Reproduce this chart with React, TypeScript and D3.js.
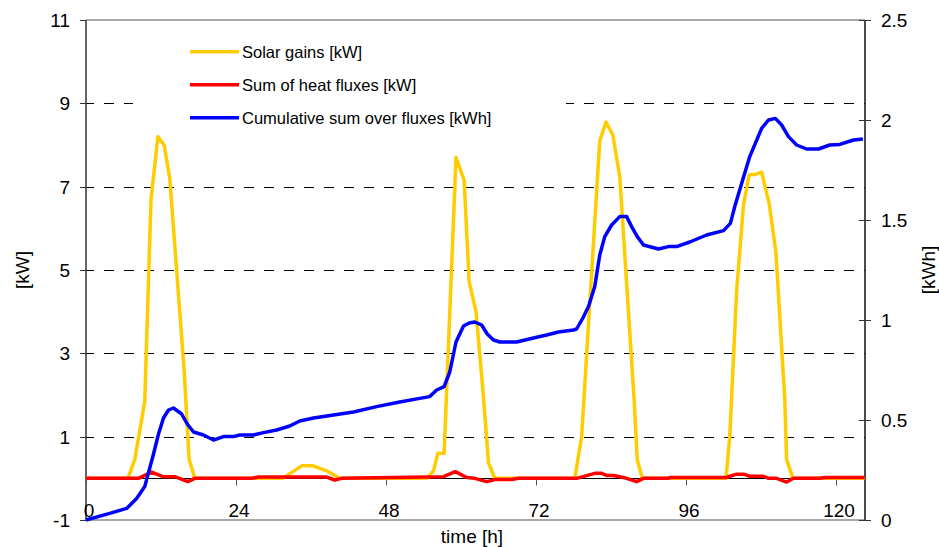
import React from "react";
import * as d3 from "d3";

const solarT = [0, 6.7, 7.8, 9.4, 10.4, 11.5, 12.5, 13.4, 15.7, 16.5, 17.4, 31.5, 33.0, 34.5, 36.3, 38.5, 40.6, 54.6, 55.6, 56.3, 57.3, 59.2, 60.5, 61.3, 62.4, 63.5, 64.4, 65.4, 78.2, 79.3, 82.2, 83.2, 84.3, 85.4, 87.7, 88.2, 89.0, 102.4, 103.0, 104.1, 105.2, 106.1, 107.2, 108.1, 109.3, 110.4, 111.8, 112.1, 113.1, 124.6];
const solarKW = [0, 0, 0.45, 1.84, 6.68, 8.2, 8.0, 7.2, 2.6, 0.45, 0, 0, 0.15, 0.3, 0.3, 0.18, 0, 0, 0.18, 0.6, 0.6, 7.7, 7.16, 4.72, 4.0, 2.12, 0.37, 0, 0, 1.0, 8.1, 8.55, 8.24, 7.24, 1.88, 0.45, 0, 0, 1.0, 4.5, 6.56, 7.28, 7.3, 7.35, 6.6, 5.4, 1.9, 0.45, 0, 0];

const heatT = [0, 8.4, 10.5, 12.3, 14.2, 16.3, 17.4, 26.5, 27.6, 38.5, 39.8, 40.9, 57.2, 59.1, 60.9, 62.2, 64.1, 65.4, 68.1, 69.2, 78.5, 81.4, 82.5, 83.3, 84.4, 86.5, 88.1, 89.2, 93.1, 93.5, 102.4, 104.1, 105.2, 106.2, 108.4, 109.2, 110.5, 112.1, 113.2, 117.4, 118.2, 124.6];
const heatKW = [0, 0, 0.15, 0.04, 0.04, -0.08, 0, 0, 0.03, 0.03, -0.04, 0, 0.04, 0.16, 0.02, 0, -0.08, -0.03, -0.03, 0, 0, 0.12, 0.12, 0.07, 0.07, 0, -0.08, 0, 0, 0.02, 0.02, 0.1, 0.1, 0.05, 0.05, 0, 0, -0.09, 0, 0, 0.02, 0.02];

const cumT = [0, 3.8, 6.5, 8.1, 9.4, 10.8, 11.6, 12.4, 13.2, 14.0, 15.3, 16.2, 17.2, 18.8, 20.4, 22.0, 23.6, 24.6, 26.8, 28.4, 30.5, 32.6, 34.2, 36.4, 39.6, 42.8, 46.5, 50.2, 53.4, 55.0, 56.1, 57.3, 58.2, 59.2, 60.4, 61.3, 62.2, 63.3, 64.2, 65.2, 66.2, 68.9, 71.6, 73.7, 75.6, 78.0, 78.5, 79.5, 80.4, 81.4, 82.2, 83.0, 84.1, 85.4, 86.5, 87.3, 88.2, 89.2, 91.6, 93.2, 94.5, 96.6, 99.3, 102.0, 103.1, 103.8, 104.9, 106.2, 108.1, 109.2, 110.3, 111.3, 112.4, 113.7, 115.3, 117.2, 119.0, 120.6, 122.8, 124.3];
const cumKWh = [0, 0.033, 0.058, 0.108, 0.167, 0.33, 0.43, 0.51, 0.55, 0.56, 0.53, 0.48, 0.44, 0.425, 0.40, 0.417, 0.417, 0.425, 0.425, 0.437, 0.45, 0.47, 0.495, 0.51, 0.525, 0.54, 0.567, 0.59, 0.608, 0.617, 0.65, 0.667, 0.74, 0.89, 0.97, 0.985, 0.99, 0.975, 0.93, 0.9, 0.89, 0.89, 0.91, 0.925, 0.94, 0.95, 0.955, 1.01, 1.067, 1.167, 1.325, 1.417, 1.475, 1.517, 1.517, 1.467, 1.417, 1.375, 1.355, 1.367, 1.367, 1.39, 1.425, 1.447, 1.483, 1.567, 1.683, 1.817, 1.958, 2.0, 2.008, 1.975, 1.917, 1.875, 1.855, 1.855, 1.875, 1.878, 1.9, 1.905];

const xTicks = [0, 24, 48, 72, 96, 120];
const leftTicks = [-1, 1, 3, 5, 7, 9, 11];
const gridValues = [1, 3, 5, 7, 9];
const rightTicks = [0, 0.5, 1, 1.5, 2, 2.5];
const rightTickLabels = ["0", "0.5", "1", "1.5", "2", "2.5"];

const seriesNames = ["Solar gains [kW]", "Sum of heat fluxes [kW]", "Cumulative sum over fluxes [kWh]"];
const seriesColors = ["#FFCC00", "#FF0000", "#0000FF"];

const W = 939, H = 547;
const L = 86, R = 865, T = 20, B = 520;
const FONT = "Arial, 'Liberation Sans', sans-serif";

export default function App() {
  const x = d3.scaleLinear().domain([0, 124.64]).range([L, R]);
  const yL = d3.scaleLinear().domain([-1, 11]).range([B, T]);
  const yR = d3.scaleLinear().domain([0, 2.5]).range([B, T]);

  const lineL = d3.line<[number, number]>().x(d => x(d[0])).y(d => yL(d[1]));
  const lineR = d3.line<[number, number]>().x(d => x(d[0])).y(d => yR(d[1]));

  const solar = solarT.map((t, i) => [t, solarKW[i]] as [number, number]);
  const heat = heatT.map((t, i) => [t, heatKW[i]] as [number, number]);
  const cum = cumT.map((t, i) => [t, cumKWh[i]] as [number, number]);

  const y0 = Math.round(yL(0)) + 0.5;
  const crisp = (v: number) => Math.round(v) + 0.5;

  return (
    <svg width={W} height={H} style={{ position: "absolute", left: 0, top: 0, display: "block", background: "#fff" }} fontFamily={FONT}>
      <rect x={0} y={0} width={W} height={H} fill="#fff" />
      {/* gridlines */}
      {gridValues.map(v => (
        <line key={v} x1={L} x2={R} y1={crisp(yL(v))} y2={crisp(yL(v))} stroke="#000" strokeWidth={1} strokeDasharray="10,10" strokeDashoffset={2} />
      ))}
      {/* frame */}
      <line x1={L} x2={R} y1={T} y2={T} stroke="#8c8c8c" strokeWidth={1.5} />
      <line x1={L} x2={R} y1={B} y2={B} stroke="#8c8c8c" strokeWidth={1.5} />
      <line x1={L} x2={L} y1={T} y2={B} stroke="#333" strokeWidth={1.5} />
      <line x1={R} x2={R} y1={T} y2={B} stroke="#111" strokeWidth={1.5} />
      {/* zero line */}
      <line x1={L} x2={R} y1={y0} y2={y0} stroke="#000" strokeWidth={1} />
      {/* legend box */}
      <rect x={133} y={32} width={433} height={98} fill="#fff" />
      {/* left ticks */}
      {leftTicks.map(v => (
        <g key={v}>
          <line x1={80} x2={L} y1={crisp(yL(v))} y2={crisp(yL(v))} stroke="#333" strokeWidth={1} />
          <text x={70} y={yL(v) + 7} textAnchor="end" fontSize={19} fill="#000">{v}</text>
        </g>
      ))}
      {/* right ticks */}
      {rightTicks.map((v, i) => (
        <g key={v}>
          <line x1={859} x2={871} y1={crisp(yR(v))} y2={crisp(yR(v))} stroke="#333" strokeWidth={1} />
          <text x={881} y={yR(v) + 7} textAnchor="start" fontSize={19} fill="#000">{rightTickLabels[i]}</text>
        </g>
      ))}
      {/* x ticks */}
      {xTicks.map(v => (
        <g key={v}>
          <line x1={crisp(x(v))} x2={crisp(x(v))} y1={y0} y2={y0 + 7} stroke="#555" strokeWidth={1} />
          <text x={x(v) + 3} y={517} textAnchor="middle" fontSize={19} fill="#000">{v}</text>
        </g>
      ))}
      {/* series */}
      <path d={lineL(solar) || ""} fill="none" stroke={seriesColors[0]} strokeWidth={3.5} strokeLinejoin="round" />
      <path d={lineL(heat) || ""} fill="none" stroke={seriesColors[1]} strokeWidth={3.5} strokeLinejoin="round" />
      <path d={lineR(cum) || ""} fill="none" stroke={seriesColors[2]} strokeWidth={3.5} strokeLinejoin="round" />
      {/* legend */}
      {seriesNames.map((n, i) => {
        const ly = 51.7 + i * 33;
        return (
          <g key={n}>
            <line x1={190} x2={239} y1={ly} y2={ly} stroke={seriesColors[i]} strokeWidth={3.5} />
            <text x={242} y={ly + 6} fontSize={16.5} fill="#000">{n}</text>
          </g>
        );
      })}
      {/* axis titles */}
      <text transform="translate(29,270) rotate(-90)" textAnchor="middle" fontSize={19} fill="#000">[kW]</text>
      <text transform="translate(935,270) rotate(-90)" textAnchor="middle" fontSize={19} fill="#000">[kWh]</text>
      <text x={472} y={543} textAnchor="middle" fontSize={19} fill="#000">time [h]</text>
    </svg>
  );
}
